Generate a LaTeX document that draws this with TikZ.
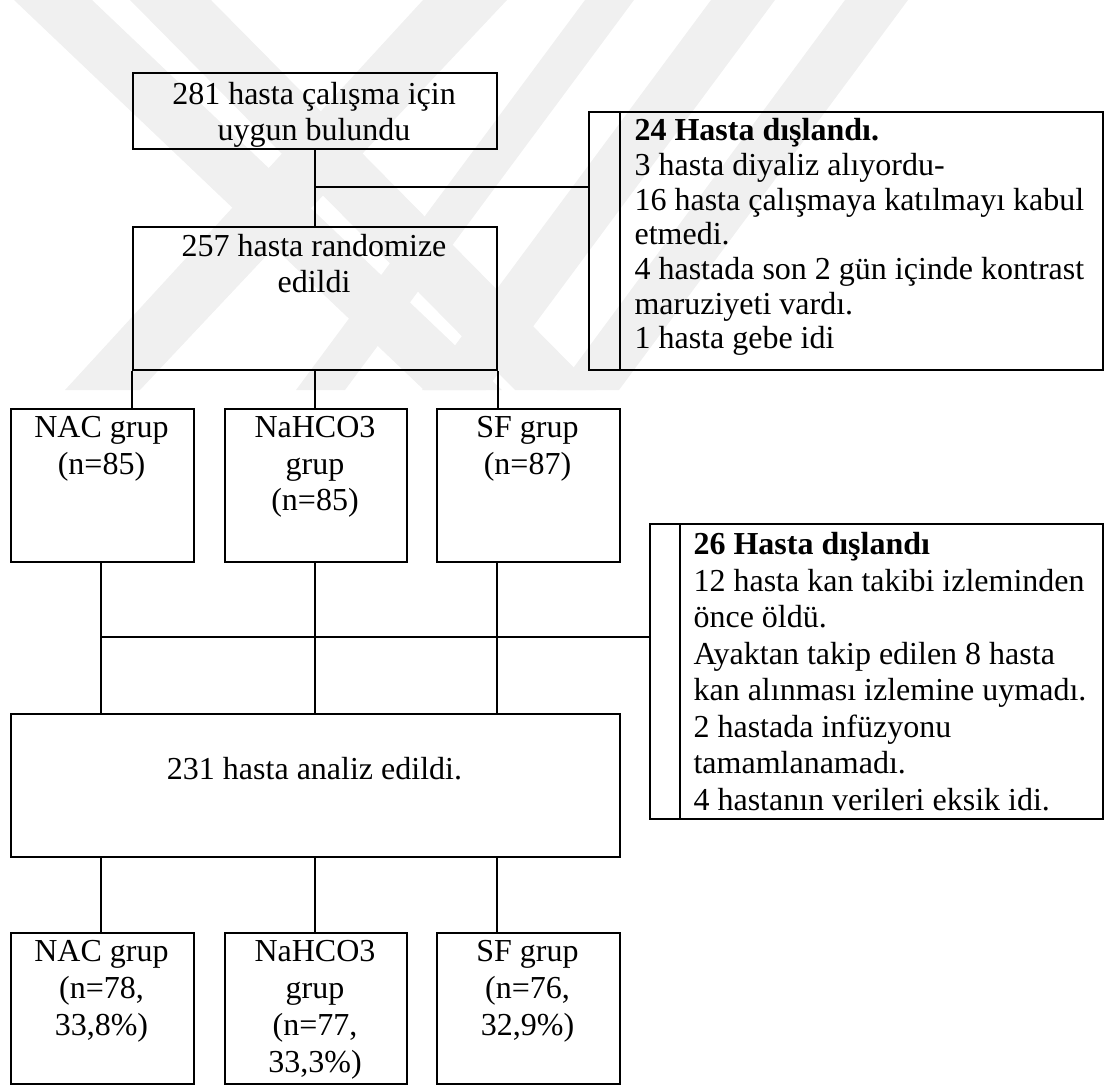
\documentclass[tikz,border=0pt]{standalone}
\usepackage{fontspec}
\setmainfont{Liberation Serif}
\usetikzlibrary{positioning}

\def\px{0.375pt}

\tikzset{
  box/.style={draw, line width=0.8pt, inner sep=0pt, anchor=north west},
  txt/.style={inner sep=0pt, align=center, anchor=north, font=\fontsize{12}{13.7}\selectfont},
  ltxt/.style={inner sep=0pt, align=left, anchor=north west, font=\fontsize{12}{13.7}\selectfont},
  link/.style={line width=0.8pt},
  wmark/.style={fill=black!6, draw=none}
}

\begin{document}
\begin{tikzpicture}[x=0.375pt, y=-0.375pt]
   \useasboundingbox (0,0) rectangle (1104,1084);
   % faint watermark behind the chart
   \fill[wmark] (14,0) -- (92,0) -- (502,390) -- (424,390) -- cycle;
   \fill[wmark] (130,0) -- (211,0) -- (596,390) -- (515,390) -- cycle;
   \fill[wmark] (423,0) -- (507,0) -- (140,390) -- (65,390) -- cycle;
   \fill[wmark] (585,0) -- (634,0) -- (345,390) -- (296,390) -- cycle;
   \fill[wmark] (711,0) -- (775,0) -- (486,390) -- (422,390) -- cycle;
   \fill[wmark] (845,0) -- (908,0) -- (619,390) -- (557,390) -- cycle;

   % boxes
   \node[box, minimum width=364*\px, minimum height=76*\px]  (elig)   at (132,72)  {};
   \node[box, minimum width=364*\px, minimum height=143*\px] (rand)   at (132,226) {};
   \node[box, minimum width=514*\px, minimum height=258*\px] (excla)  at (588,111) {};
   \node[box, minimum width=183*\px, minimum height=153*\px] (naca)   at (10,408)  {};
   \node[box, minimum width=182*\px, minimum height=153*\px] (bica)   at (224,408) {};
   \node[box, minimum width=183*\px, minimum height=153*\px] (sfa)    at (436,408) {};
   \node[box, minimum width=453*\px, minimum height=295*\px] (exclb)  at (649,523) {};
   \node[box, minimum width=609*\px, minimum height=143*\px] (anl)    at (10,713)  {};
   \node[box, minimum width=183*\px, minimum height=151*\px] (nacb)   at (10,932)  {};
   \node[box, minimum width=182*\px, minimum height=151*\px] (bicb)   at (224,932) {};
   \node[box, minimum width=183*\px, minimum height=151*\px] (sfb)    at (436,932) {};

   % texts
   \node[txt, font=\fontsize{12}{13.4}\selectfont] (eligt) at (314,82) {281 hasta çalışma için\\uygun bulundu};
   \node[txt, font=\fontsize{12}{13.4}\selectfont] (randt) at (314,234) {257 hasta randomize\\edildi};
   \node[txt] (nacat) at (101.5,416) {NAC grup\\(n=85)};
   \node[txt] (bicat) at (315,416)   {NaHCO3\\grup\\(n=85)};
   \node[txt] (sfat)  at (527.5,416) {SF grup\\(n=87)};
   \node[txt] (anlt)  at (314.5,757) {231 hasta analiz edildi.};
   \node[txt, font=\fontsize{12}{13.8}\selectfont] (nacbt) at (101.5,940) {NAC grup\\(n=78,\\33,8\%)};
   \node[txt, font=\fontsize{12}{13.8}\selectfont] (bicbt) at (315,940)   {NaHCO3\\grup\\(n=77,\\33,3\%)};
   \node[txt, font=\fontsize{12}{13.8}\selectfont] (sfbt)  at (527.5,940) {SF grup\\(n=76,\\32,9\%)};
   \node[ltxt, font=\fontsize{12}{13.0}\selectfont] (exclat) at (634,118) {\textbf{24 Hasta dışlandı.}\\3 hasta diyaliz alıyordu-\\16 hasta çalışmaya katılmayı kabul\\etmedi.\\4 hastada son 2 gün içinde kontrast\\maruziyeti vardı.\\1 hasta gebe idi};
   \node[ltxt] (exclbt) at (693,532) {\textbf{26 Hasta dışlandı}\\12 hasta kan takibi izleminden\\önce öldü.\\Ayaktan takip edilen 8 hasta\\kan alınması izlemine uymadı.\\2 hastada infüzyonu\\tamamlanamadı.\\4 hastanın verileri eksik idi.};

   % side columns of the exclusion boxes
   \draw[link] ([xshift=32*\px]excla.north west) -- ([xshift=32*\px]excla.south west);
   \draw[link] ([xshift=31*\px]exclb.north west) -- ([xshift=31*\px]exclb.south west);

   % connectors
   \coordinate (ja) at (315,187);
   \coordinate (jb) at (101,637);
   \coordinate (sfx) at (497,0);
   \draw[link] (elig.south -| ja) -- (rand.north -| ja);
   \draw[link] (ja) -- (ja -| excla.west);
   \draw[link] (rand.south west) -- (rand.south west |- naca.north);
   \draw[link] (rand.south -| ja) -- (bica.north -| ja);
   \draw[link] (rand.south east) -- (rand.south east |- sfa.north);
   \draw[link] (naca.south -| jb) -- (anl.north -| jb);
   \draw[link] (bica.south -| ja) -- (anl.north -| ja);
   \draw[link] (sfa.south -| sfx) -- (anl.north -| sfx);
   \draw[link] (jb) -- (jb -| exclb.west);
   \draw[link] (anl.south -| jb) -- (nacb.north -| jb);
   \draw[link] (anl.south -| ja) -- (bicb.north -| ja);
   \draw[link] (anl.south -| sfx) -- (sfb.north -| sfx);
\end{tikzpicture}
\end{document}
